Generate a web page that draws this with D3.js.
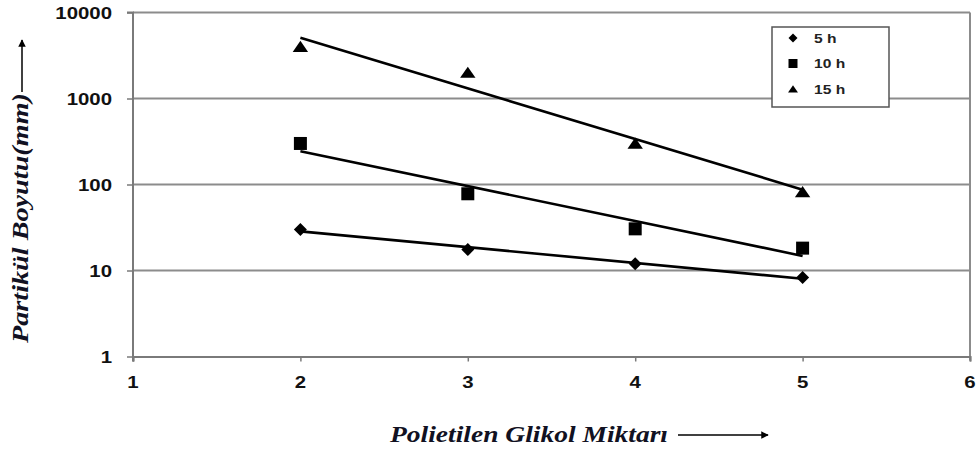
<!DOCTYPE html>
<html><head><meta charset="utf-8">
<script src="https://cdn.jsdelivr.net/npm/d3@7"></script>
<style>body{margin:0;background:#fff}svg{display:block}</style>
</head><body>
<script>
const xValues = [2, 3, 4, 5];
const series5h = [30, 17.5, 12, 8.3];
const series10h = [300, 78, 30.5, 18.2];
const series15h = [4000, 2000, 300, 82];
const seriesNames = ["5 h", "10 h", "15 h"];
const xTicks = [1, 2, 3, 4, 5, 6];
const yTicks = [1, 10, 100, 1000, 10000];
const yTitle = "Partikül Boyutu(mm)";
const xTitle = "Polietilen Glikol Miktarı";

const W = 978, H = 452;
const svg = d3.select("body").append("svg").attr("width", W).attr("height", H);
const defs = svg.append("defs");
defs.append("marker").attr("id","ah").attr("viewBox","0 0 10 10").attr("refX",9).attr("refY",5)
  .attr("markerWidth",5).attr("markerHeight",5).attr("orient","auto")
  .append("path").attr("d","M0,0L10,5L0,10Z").attr("fill","#000");

const x = d3.scaleLinear().domain([1, 6]).range([133, 970]);
const y = d3.scaleLog().domain([1, 10000]).range([356.5, 12.5]);

const series = [
  {name: seriesNames[0], values: series5h, shape: "diamond"},
  {name: seriesNames[1], values: series10h, shape: "square"},
  {name: seriesNames[2], values: series15h, shape: "triangle"}
];

function shapePath(shape, s) {
  if (shape === "diamond") return `M0,${-s}L${s},0L0,${s}L${-s},0Z`;
  if (shape === "square") return `M${-s},${-s}H${s}V${s}H${-s}Z`;
  return `M0,${-s*0.85}L${s*1.1},${s*0.75}H${-s*1.1}Z`;
}

// gridlines
svg.append("g").selectAll("line").data(yTicks.filter(d => d > 1)).join("line")
  .attr("x1", x(1)).attr("x2", x(6)).attr("y1", d => y(d)).attr("y2", d => y(d))
  .attr("stroke", "#8c8c8c").attr("stroke-width", 2);
// right border
svg.append("line").attr("x1", x(6)).attr("x2", x(6)).attr("y1", y(10000)).attr("y2", y(1) + 4)
  .attr("stroke", "#8c8c8c").attr("stroke-width", 2);

// axes
const gy = svg.append("g").attr("transform", `translate(${x(1)},0)`)
  .call(d3.axisLeft(y).tickValues(yTicks).tickSize(6).tickFormat(""));
const gx = svg.append("g").attr("transform", `translate(0,${y(1)})`)
  .call(d3.axisBottom(x).tickValues(xTicks).tickSize(5).tickFormat(""));
[gy, gx].forEach(g => {
  g.select(".domain").attr("stroke", "#7a7a7a").attr("stroke-width", 2);
  g.selectAll(".tick line").attr("stroke", "#7a7a7a").attr("stroke-width", 1.5);
});
gy.select(".domain").attr("d", `M-6,${y(10000)}H0V${y(1)+5}`);

// tick labels
svg.append("g").selectAll("text").data(yTicks).join("text")
  .attr("transform", d => `translate(112,${y(d) + 6}) scale(1.2,1)`)
  .attr("text-anchor", "end").attr("font-family", "Liberation Sans, Arial, sans-serif")
  .attr("font-weight", "bold").attr("font-size", 17).attr("fill", "#111").text(d => d);
svg.append("g").selectAll("text").data(xTicks).join("text")
  .attr("transform", d => `translate(${x(d)},388) scale(1.2,1)`)
  .attr("text-anchor", "middle").attr("font-family", "Liberation Sans, Arial, sans-serif")
  .attr("font-weight", "bold").attr("font-size", 17).attr("fill", "#111").text(d => d);

// trendlines (exponential least-squares fit)
series.forEach(s => {
  const logs = s.values.map(v => Math.log10(v));
  const mx = d3.mean(xValues), ml = d3.mean(logs);
  const slope = d3.sum(xValues.map((xv, i) => (xv - mx) * (logs[i] - ml))) /
                d3.sum(xValues.map(xv => (xv - mx) ** 2));
  const f = xv => Math.pow(10, ml + slope * (xv - mx));
  const x0 = d3.min(xValues), x1 = d3.max(xValues);
  svg.append("line").attr("x1", x(x0)).attr("y1", y(f(x0))).attr("x2", x(x1)).attr("y2", y(f(x1)))
    .attr("stroke", "#000").attr("stroke-width", 2.6);
});

// markers
series.forEach(s => {
  const sz = s.shape === "diamond" ? 6.5 : s.shape === "square" ? 6.5 : 7;
  svg.append("g").selectAll("path").data(s.values).join("path")
    .attr("transform", (d, i) => `translate(${x(xValues[i])},${y(d)})`)
    .attr("d", shapePath(s.shape, sz)).attr("fill", "#000");
});

// legend
const lg = svg.append("g");
lg.append("rect").attr("x", 772).attr("y", 27).attr("width", 117).attr("height", 80)
  .attr("fill", "#fff").attr("stroke", "#555").attr("stroke-width", 1.5);
const legY = d3.scalePoint().domain(seriesNames).range([38, 89]);
series.forEach(s => {
  lg.append("path").attr("transform", `translate(793,${legY(s.name)})`)
    .attr("d", shapePath(s.shape, 4.5)).attr("fill", "#000");
  lg.append("text").attr("transform", `translate(814,${legY(s.name) + 4.5}) scale(1.3,1)`)
    .attr("font-family", "Liberation Sans, Arial, sans-serif").attr("font-weight", "bold")
    .attr("font-size", 12).attr("fill", "#222").text(s.name);
});

// axis titles
svg.append("text").attr("transform", "translate(28,343) rotate(-90)")
  .attr("font-family", "Liberation Serif, Times New Roman, serif").attr("font-style", "italic")
  .attr("font-weight", "bold").attr("font-size", 24).attr("fill", "#111122")
  .attr("textLength", 250).attr("lengthAdjust", "spacingAndGlyphs").text(yTitle);
svg.append("line").attr("x1", 22).attr("x2", 22).attr("y1", 92).attr("y2", 40)
  .attr("stroke", "#000").attr("stroke-width", 1.5).attr("marker-end", "url(#ah)");

svg.append("text").attr("x", 390).attr("y", 441.5)
  .attr("font-family", "Liberation Serif, Times New Roman, serif").attr("font-style", "italic")
  .attr("font-weight", "bold").attr("font-size", 23).attr("fill", "#111122")
  .attr("textLength", 278).attr("lengthAdjust", "spacingAndGlyphs").text(xTitle);
svg.append("line").attr("x1", 678).attr("x2", 768).attr("y1", 435).attr("y2", 435)
  .attr("stroke", "#000").attr("stroke-width", 1.5).attr("marker-end", "url(#ah)");
</script>
</body></html>
